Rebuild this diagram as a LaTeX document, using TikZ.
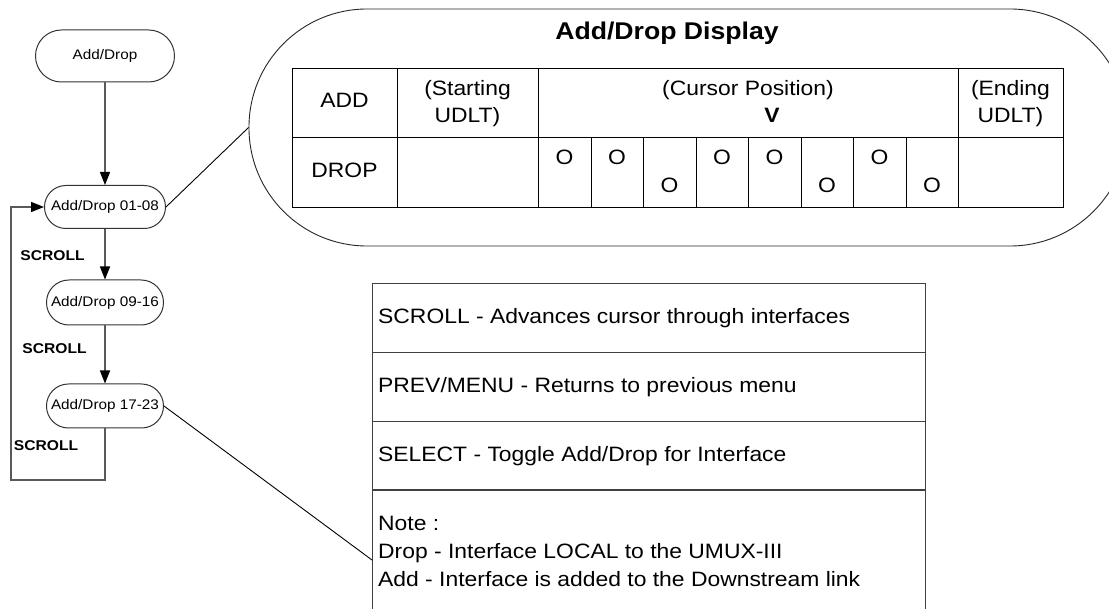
\documentclass[tikz,border=0pt]{standalone}
\usepackage{fontspec}
\setmainfont{Liberation Sans}[FakeStretch=1.1]
\usetikzlibrary{arrows.meta}
\begin{document}
\begin{tikzpicture}[x=1pt,y=-1pt,
  pill/.style={draw=black!80, line width=1pt, rectangle, inner sep=0pt, font=\fontsize{13.9}{16}\selectfont},
  flow/.style={draw=black!65, line width=1.1pt, -{Triangle[length=13pt,width=10pt,color=black]}},
  lbl/.style={font=\fontsize{14.2}{16}\selectfont\bfseries, inner sep=0pt},
  cell/.style={font=\fontsize{20.8}{27}\selectfont, inner sep=0pt, anchor=base},
  legtxt/.style={font=\fontsize{20.8}{28}\selectfont, inner sep=0pt, anchor=base west},
  tline/.style={draw=black, line width=1pt},
  lline/.style={draw=black!75, line width=1pt},
  row/.style={lline, rectangle, minimum width=553pt, minimum height=69pt, anchor=north west, inner sep=0pt},
  callout/.style={draw=black, line width=0.9pt}]
\useasboundingbox (0,0) rectangle (1109,609);
\clip (0,0) rectangle (1109,609);
% ---------- flowchart ----------
\node[pill, minimum width=139pt, minimum height=52pt, rounded corners=25.9pt] (n0) at (105,56) {Add/Drop};
\node[pill, minimum width=121pt, minimum height=43pt, rounded corners=21.4pt] (n1) at (105,207) {Add/Drop 01-08};
\node[pill, minimum width=117pt, minimum height=45pt, rounded corners=22.4pt] (n2) at (105,302.5) {Add/Drop 09-16};
\node[pill, minimum width=117pt, minimum height=44pt, rounded corners=21.9pt] (n3) at (105,406) {Add/Drop 17-23};
\draw[flow] (n0) -- (n1);
\draw[flow] (n1) -- (n2);
\draw[flow] (n2) -- (n3);
\coordinate (lb) at (105,480);
\coordinate (lc) at (11,480);
\draw[flow] (n3.south) -- (lb) -- (lc) -- (lc |- n1.west) -- (n1.west);
\node[lbl] (s1) at (52.5,256) {SCROLL};
\node[lbl] (s2) at (54.5,349) {SCROLL};
\node[lbl] (s3) at (46,446) {SCROLL};
% ---------- display callout ----------
\node[draw=black!85, line width=0.9pt, rectangle, rounded corners=118pt, minimum width=879pt, minimum height=237pt, inner sep=0pt] (disp) at (688.5,127.5) {};
\draw[callout] (n1.east) -- (disp.west);
\node[font=\fontsize{24.2}{28}\selectfont\bfseries, inner sep=0pt, anchor=base] (title) at (667,40) {Add/Drop Display};
% table
\draw[tline] (292,69) rectangle (1063,208);
\draw[tline] (292,138) -- (1063,138);
\foreach \x in {397,538,958} \draw[tline] (\x,69) -- (\x,208);
\foreach \x in {591,643.5,696,748.5,801,853.5,906} \draw[tline] (\x,138) -- (\x,208);
\node[cell] (tadd) at (344.5,108) {ADD};
\node[cell] (ts1) at (467.5,96) {(Starting};
\node[cell] (ts2) at (467.5,123) {UDLT)};
\node[cell] (tcur) at (748,96) {(Cursor Position)};
\node[cell] (tv) at (772,123) {\bfseries V};
\node[cell] (te1) at (1010.5,96) {(Ending};
\node[cell] (te2) at (1010.5,123) {UDLT)};
\node[cell] (tdrop) at (344.5,178) {DROP};
\node[cell] (o1) at (564.5,165) {O};
\node[cell] (o2) at (617,165) {O};
\node[cell] (o3) at (669.5,193) {O};
\node[cell] (o4) at (722,165) {O};
\node[cell] (o5) at (774.5,165) {O};
\node[cell] (o6) at (827,193) {O};
\node[cell] (o7) at (879.5,165) {O};
\node[cell] (o8) at (932,193) {O};
% ---------- legend ----------
\node[row] (r1) at (372,283) {};
\node[row] (r2) at (372,352) {};
\node[row] (r3) at (372,421) {};
\draw[lline] (372,640) -- (372,490) -- (925,490) -- (925,640);
\coordinate (c4) at (372,560);
\draw[callout] (n3.east) -- (c4);
\node[legtxt] (t1) at (378,324) {SCROLL - Advances cursor through interfaces};
\node[legtxt] (t2) at (378,393) {PREV/MENU - Returns to previous menu};
\node[legtxt] (t3) at (378,462) {SELECT - Toggle Add/Drop for Interface};
\node[legtxt] (t4) at (378,530) {Note :};
\node[legtxt] (t5) at (378,558) {Drop - Interface LOCAL to the UMUX-III};
\node[legtxt] (t6) at (378,586) {Add - Interface is added to the Downstream link};
\end{tikzpicture}
\end{document}
